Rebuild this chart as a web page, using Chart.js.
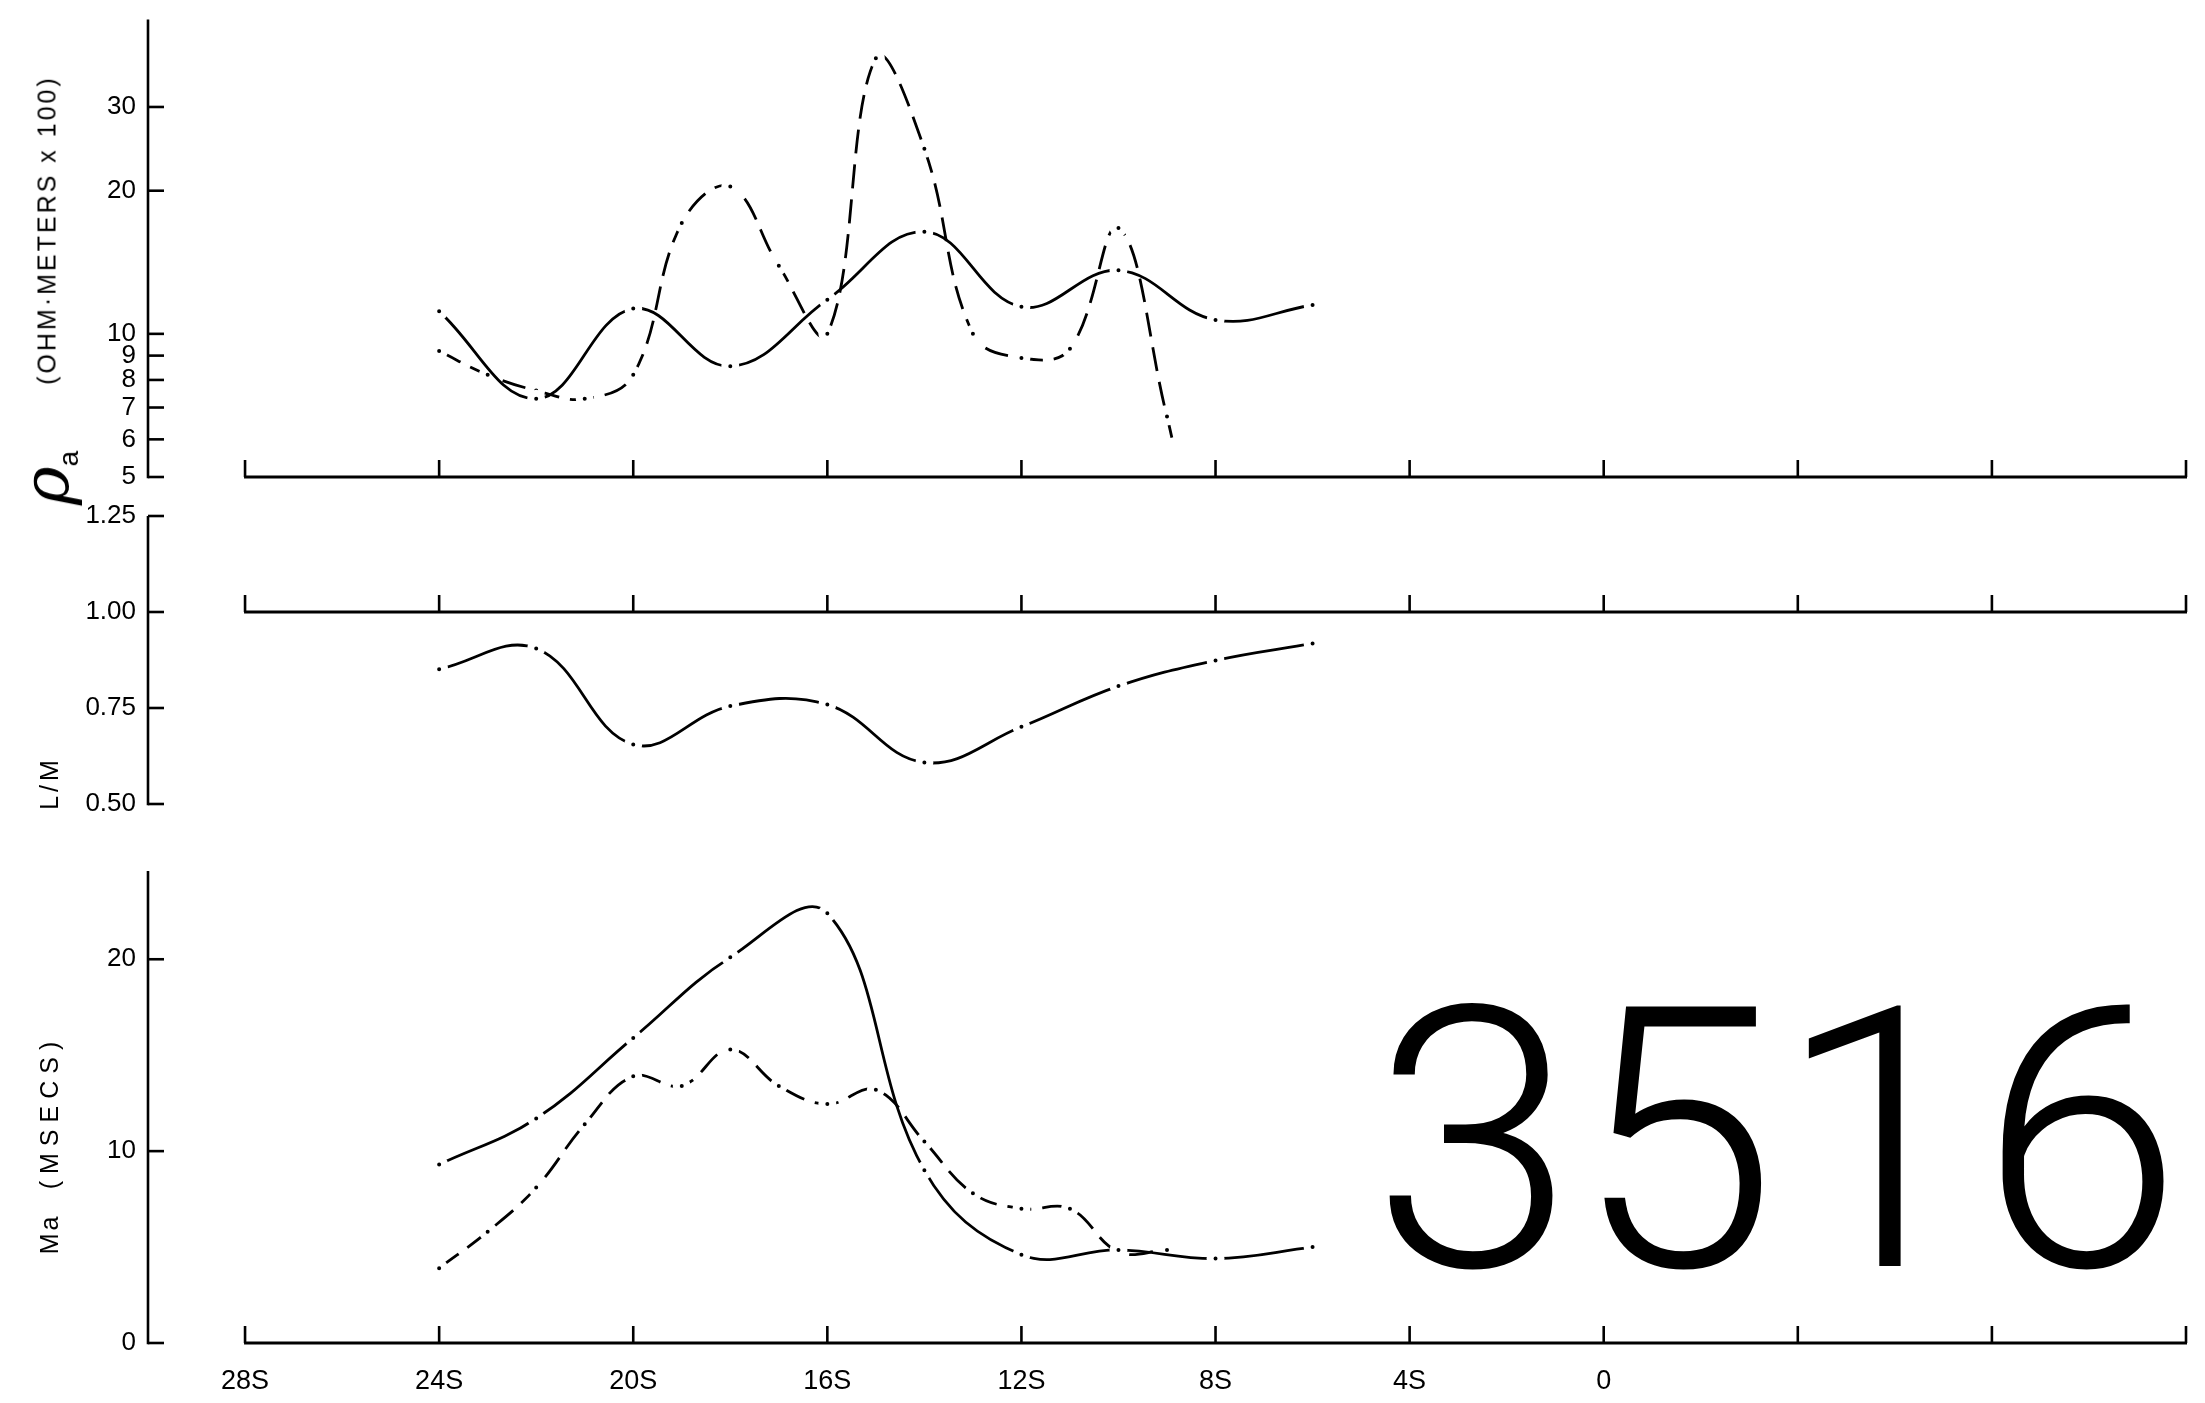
<!DOCTYPE html>
<html>
<head>
<meta charset="utf-8">
<script src="https://cdn.jsdelivr.net/npm/chart.js@4.4.1/dist/chart.umd.min.js"></script>
<style>
html,body{margin:0;padding:0;background:#fff;}
#wrap{position:relative;width:2205px;height:1403px;overflow:hidden;background:#fff;}
canvas{position:absolute;left:0;top:0;}
.lbl{position:absolute;font-family:'Liberation Sans',Arial,sans-serif;color:#000;white-space:nowrap;line-height:1;}
.rot{transform:translate(-50%,-50%) rotate(-90deg);transform-origin:center center;}
</style>
</head>
<body>
<div id="wrap">
  <canvas id="cRho" width="2205" height="1403"></canvas>
  <canvas id="cLM" width="2205" height="1403"></canvas>
  <canvas id="cMa" width="2205" height="1403"></canvas>
  <div class="lbl rot" style="left:47px;top:230px;font-size:25px;letter-spacing:3px;">(OHM·METERS x 100)</div>
  <div class="lbl rot" style="left:46px;top:478px;font-size:66px;font-family:'DejaVu Serif',serif;font-style:italic;font-weight:300;">ρ<span style="font-size:28px;font-style:normal;font-family:'Liberation Sans',sans-serif;position:relative;top:10px;">a</span></div>
  <div class="lbl rot" style="left:49px;top:783px;font-size:25px;letter-spacing:4px;">L/M</div>
  <div class="lbl rot" style="left:49px;top:1112px;font-size:25px;letter-spacing:7px;">(MSECS)</div>
  <div class="lbl rot" style="left:49px;top:1234px;font-size:25px;letter-spacing:3px;">Ma</div>
  <div class="lbl" id="fig" style="left:1372px;top:959px;font-size:365px;font-family:Roboto,'Liberation Sans',sans-serif;font-weight:300;">3516</div>
</div>
<script>
// ---------- shared x axis (latitude, S negative) ----------
const xTickValues = [-28, -24, -20, -16, -12, -8, -4, 0];
const xTickLabels = ['28S', '24S', '20S', '16S', '12S', '8S', '4S', '0'];
const xAxisMarks  = [-28, -24, -20, -16, -12, -8, -4, 0, 4, 8, 12];

// ---------- apparent resistivity (ohm-m x 100), log axis ----------
const rhoTickValues = [5, 6, 7, 8, 9, 10, 20, 30];
const rhoTickLabels = ['5', '6', '7', '8', '9', '10', '20', '30'];
const rhoSolidLat   = [-24, -22, -20, -18, -16, -14, -12, -10, -8, -6];
const rhoSolid      = [11.15, 7.3, 11.3, 8.55, 11.8, 16.4, 11.4, 13.6, 10.7, 11.5];
const rhoDashedLat  = [-24, -23, -22, -21, -20, -19, -18, -17, -16, -15, -14, -13, -12, -11, -10, -9, -8.9];
const rhoDashed     = [9.2, 8.2, 7.6, 7.3, 8.2, 17.1, 20.4, 13.9, 10.0, 38.0, 24.5, 10.0, 8.9, 9.3, 16.7, 6.7, 6.05];

// ---------- L/M ----------
const lmTickValues = [0.5, 0.75, 1.0, 1.25];
const lmTickLabels = ['0.50', '0.75', '1.00', '1.25'];
const lmLat        = [-24, -22, -20, -18, -16, -14, -12, -10, -8, -6];
const lmValues     = [0.851, 0.905, 0.655, 0.755, 0.759, 0.608, 0.701, 0.807, 0.874, 0.918];

// ---------- Ma (msecs) ----------
const maTickValues = [0, 10, 20];
const maTickLabels = ['0', '10', '20'];
const maSolidLat   = [-24, -22, -20, -18, -16, -14, -12, -10, -8, -6];
const maSolid      = [9.3, 11.7, 15.9, 20.1, 22.4, 9.0, 4.6, 4.85, 4.4, 5.0];
const maDashedLat  = [-24, -23, -22, -21, -20, -19, -18, -17, -16, -15, -14, -13, -12, -11, -10, -9];
const maDashed     = [3.9, 5.8, 8.1, 11.4, 13.9, 13.4, 15.3, 13.4, 12.45, 13.2, 10.5, 7.8, 7.0, 7.0, 4.75, 4.85];

const FONT = "'Liberation Sans', Arial, sans-serif";
const pts = (xs, ys) => xs.map((x, i) => ({x: x, y: ys[i]}));

const axisPlugin = {
  id: 'axisLines',
  afterDraw(chart, args, o) {
    const ctx = chart.ctx, xs = chart.scales.x, ys = chart.scales.y;
    const ax = chart.chartArea.left;
    ctx.save();
    ctx.strokeStyle = '#000';
    ctx.lineCap = 'butt';
    ctx.lineWidth = 2.6;
    ctx.beginPath();
    ctx.moveTo(ax, ys.getPixelForValue(o.yTop));
    ctx.lineTo(ax, ys.getPixelForValue(o.yBottom) + 1.3);
    ctx.stroke();
    o.yMarks.forEach(v => {
      const py = ys.getPixelForValue(v);
      ctx.beginPath(); ctx.moveTo(ax, py); ctx.lineTo(ax + 16, py); ctx.stroke();
    });
    const py = ys.getPixelForValue(o.xAxisAt);
    ctx.lineWidth = 3;
    ctx.beginPath();
    ctx.moveTo(xs.getPixelForValue(xAxisMarks[0]) - 1, py);
    ctx.lineTo(xs.getPixelForValue(xAxisMarks[xAxisMarks.length - 1]) + 1, py);
    ctx.stroke();
    ctx.lineWidth = 2.6;
    xAxisMarks.forEach(v => {
      const px = xs.getPixelForValue(v);
      ctx.beginPath(); ctx.moveTo(px, py); ctx.lineTo(px, py - 17); ctx.stroke();
    });
    ctx.restore();
  }
};

function lineDs(data, dashed, noDotLast) {
  return {
    data: data,
    borderColor: '#000',
    borderWidth: 2.8,
    borderDash: dashed ? [24, 11] : [],
    tension: 0.4,
    fill: false,
    pointRadius: ctx => (noDotLast && ctx.dataIndex === data.length - 1) ? 0 : 5.5,
    pointBorderWidth: 7,
    pointBorderColor: '#fff',
    pointBackgroundColor: '#000',
    clip: 12
  };
}

function makeChart(id, cfg) {
  return new Chart(document.getElementById(id), {
    type: 'line',
    data: { datasets: cfg.datasets },
    options: {
      responsive: false,
      animation: false,
      devicePixelRatio: 1,
      events: [],
      layout: { padding: { left: 0, right: 19, top: cfg.padTop, bottom: cfg.padBottom } },
      plugins: {
        legend: { display: false },
        tooltip: { enabled: false },
        axisLines: { yTop: cfg.yMax, yBottom: cfg.yMin, yMarks: cfg.yTicks, xAxisAt: cfg.xAxisAt }
      },
      scales: {
        x: {
          type: 'linear', min: -30, max: 12, bounds: 'data',
          display: cfg.showX,
          grid: { display: false }, border: { display: false },
          afterFit: s => { s.height = cfg.xHeight || 0; },
          afterBuildTicks: s => { s.ticks = xTickValues.map(v => ({ value: v })); },
          ticks: {
            autoSkip: false, maxRotation: 0, padding: 14, color: '#000',
            font: { family: FONT, size: 27 },
            callback: (v, i) => xTickLabels[i]
          }
        },
        y: {
          type: cfg.yType, min: cfg.yMin, max: cfg.yMax, bounds: 'data',
          position: 'left',
          grid: { display: false }, border: { display: false },
          afterFit: s => { s.width = 148; },
          afterBuildTicks: s => { s.ticks = cfg.yTicks.map(v => ({ value: v })); },
          ticks: {
            autoSkip: false, padding: 4, color: '#000',
            font: { family: FONT, size: 26 },
            callback: (v, i) => cfg.yLabels[i]
          }
        }
      }
    },
    plugins: [axisPlugin]
  });
}

makeChart('cRho', {
  datasets: [lineDs(pts(rhoSolidLat, rhoSolid), false, false), lineDs(pts(rhoDashedLat, rhoDashed), true, true)],
  yType: 'logarithmic', yMin: 5, yMax: 45.8, yTicks: rhoTickValues, yLabels: rhoTickLabels,
  padTop: 16, padBottom: 1403 - 477, showX: false, xAxisAt: 5
});

makeChart('cLM', {
  datasets: [lineDs(pts(lmLat, lmValues), false, false)],
  yType: 'linear', yMin: 0.5, yMax: 1.25, yTicks: lmTickValues, yLabels: lmTickLabels,
  padTop: 516, padBottom: 1403 - 804, showX: false, xAxisAt: 1.0
});

makeChart('cMa', {
  datasets: [lineDs(pts(maSolidLat, maSolid), false, false), lineDs(pts(maDashedLat, maDashed), true, false)],
  yType: 'linear', yMin: 0, yMax: 24.6, yTicks: maTickValues, yLabels: maTickLabels,
  padTop: 871, padBottom: 0, showX: true, xHeight: 60, xAxisAt: 0
});
</script>
</body>
</html>
